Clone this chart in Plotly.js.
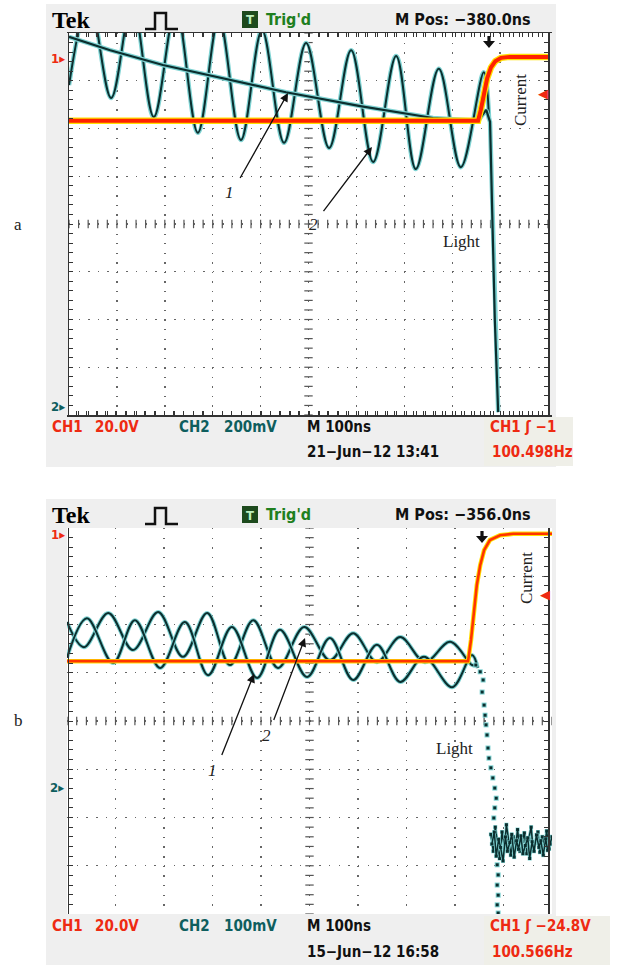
<!DOCTYPE html>
<html><head><meta charset="utf-8">
<script src="https://cdn.plot.ly/plotly-3.0.1.min.js"></script>
<style>html,body{margin:0;padding:0;background:#fff}#chart{width:623px;height:965px}</style>
</head><body><div id="chart"></div>
<script>
// ---------- DATA (in screen divisions: x 0..10, y -4..4) ----------
// Panel a, trace 2 (sinusoid)
const aWaveX = [0.00,0.42,0.88,1.32,1.77,2.23,2.69,3.13,3.59,4.03,4.49,4.95,5.43,5.89,6.35,6.83,7.24,7.72,8.18,8.66,8.77];
const aWaveY = [2.91,4.69,2.64,4.65,2.24,4.52,1.91,4.31,1.76,4.06,1.70,3.79,1.59,3.64,1.30,3.52,1.15,3.25,1.19,3.18,2.18];
// Panel a, trace 1 (falling line) and light drop
const aLineX = [0.00,0.86,1.96,3.15,4.53,6.08,7.60,8.54,8.71,8.79,8.83,8.89,8.96];
const aLineY = [3.92,3.64,3.33,3.06,2.76,2.47,2.22,2.16,2.39,2.14,0.50,-2.01,-3.94];
// Panel a, current (CH1)
const aCurX = [0,8.54,8.60,8.66,8.73,8.81,8.90,9.02,9.20,10];
const aCurY = [2.16,2.16,2.40,2.75,3.05,3.28,3.41,3.48,3.50,3.50];
// Panel b, trace 1
const bWave1X = [0.00,0.35,0.85,1.36,1.88,2.39,2.89,3.36,3.84,4.35,4.89,5.42,5.90,6.39,6.87,7.38,7.90,8.35,8.43];
const bWave1Y = [2.05,1.53,2.24,1.47,2.26,1.33,2.24,1.16,2.09,1.10,1.95,1.26,1.82,1.22,1.74,1.22,1.64,1.16,1.16];
// Panel b, trace 2
const bWave2X = [0.00,0.41,0.95,1.40,1.92,2.43,2.91,3.40,3.92,4.39,4.95,5.42,5.90,6.39,6.87,7.36,7.94,8.35,8.47];
const bWave2Y = [1.31,2.13,1.20,2.09,1.10,2.05,0.95,1.95,0.89,1.89,0.91,1.72,0.85,1.58,0.81,1.33,0.70,1.37,1.10];
// Panel b, light drop (sampled dots)
const bLightX = [8.43,8.52,8.58,8.56,8.60,8.62,8.64,8.66,8.68,8.70,8.74,8.78,8.82,8.85,8.82,8.80,8.87,8.89,8.87,8.89,8.87,8.89];
const bLightY = [1.16,1.02,0.85,0.60,0.33,0.12,-0.08,-0.29,-0.56,-0.77,-0.97,-1.18,-1.39,-1.60,-1.80,-2.01,-2.98,-3.19,-3.40,-3.61,-3.81,-3.98];
// Panel b, noise after the drop
const bNoise1X = [8.74,8.79,8.83,8.88,8.92,8.97,9.02,9.06,9.11,9.15,9.20,9.25,9.29,9.34,9.38,9.43,9.48,9.52,9.57,9.61,9.66,9.71,9.75,9.80,9.85,9.89,9.94,9.99];
const bNoise1Y = [-2.35,-2.70,-2.20,-2.55,-2.85,-2.30,-2.62,-2.15,-2.48,-2.78,-2.40,-2.60,-2.25,-2.70,-2.50,-2.32,-2.75,-2.45,-2.20,-2.66,-2.52,-2.30,-2.72,-2.40,-2.58,-2.28,-2.65,-2.45];
const bNoise2X = [8.76,8.81,8.85,8.90,8.94,8.99,9.04,9.08,9.13,9.17,9.22,9.27,9.31,9.36,9.40,9.45,9.50,9.54,9.59,9.63,9.68,9.73,9.77,9.82,9.87,9.91,9.96,10.0];
const bNoise2Y = [-2.55,-2.30,-2.80,-2.45,-2.62,-2.90,-2.40,-2.70,-2.52,-2.35,-2.82,-2.48,-2.66,-2.38,-2.75,-2.58,-2.42,-2.85,-2.50,-2.70,-2.36,-2.62,-2.48,-2.78,-2.44,-2.68,-2.55,-2.40];
// Panel b, current (CH1)
const bCurX = [0,8.27,8.33,8.39,8.45,8.52,8.60,8.72,8.93,9.20,10];
const bCurY = [1.24,1.24,1.68,2.26,2.82,3.23,3.54,3.75,3.85,3.88,3.88];
// Texts
const headerA = ["Tek","Trig'd","M Pos: \u2212380.0ns"];
const headerB = ["Tek","Trig'd","M Pos: \u2212356.0ns"];
const footA = ["CH1","20.0V","CH2","200mV","M 100ns","CH1 \u0283 \u22121","21\u2212Jun\u221212 13:41","100.498Hz"];
const footB = ["CH1","20.0V","CH2","100mV","M 100ns","CH1 \u0283 \u221224.8V","15\u2212Jun\u221212 16:58","100.566Hz"];

// ---------- LAYOUT ----------
const W=623,H=965;
const fx=x=>x/W, fy=y=>1-y/H;
const SCOPE="'Liberation Sans Narrow','DejaVu Sans Condensed','Arial Narrow',sans-serif";
const SERIF="'Liberation Serif','DejaVu Serif',serif";
const RED='#ee2a12', TEAL='#0e5e5e', GREEN='#1f7f1f';
const TEALCORE='#0b2e2e', TEALHALO='#7fd3d3';

const panels=[
 {xa:'x',ya:'y',L:69,R:548,T:33,B:415,dy:0,hdr:headerA,ft:footA},
 {xa:'x2',ya:'y2',L:67,R:552,T:528,B:914,dy:495,hdr:headerB,ft:footB}
];

function axis(dom,spacing){
  return {domain:dom,range:[0,10],showgrid:true,gridcolor:'#666',gridwidth:1.4,
    griddash:'1.4px,'+(spacing-1.4).toFixed(2)+'px',dtick:1,tick0:0,ticks:'inside',ticklen:4,
    tickcolor:'#333',tickwidth:1,minor:{dtick:0.2,ticklen:4,tickcolor:'#333',tickwidth:1,ticks:'inside',showgrid:false},
    showline:true,linecolor:'#333',linewidth:1.5,mirror:'ticks',showticklabels:false,zeroline:false,fixedrange:true};
}

const layout={width:W,height:H,margin:{l:0,r:0,t:0,b:0},paper_bgcolor:'#fff',plot_bgcolor:'rgba(0,0,0,0)',
  showlegend:false,shapes:[],annotations:[]};

const traces=[];
panels.forEach((p,i)=>{
  const sfx=i===0?'':'2';
  const xax=axis([fx(p.L),fx(p.R)],0.2*(p.B-p.T)/8);
  const yax=axis([fy(p.B),fy(p.T)],0.2*(p.R-p.L)/10);
  yax.range=[-4,4];
  layout['xaxis'+sfx]=xax; layout['yaxis'+sfx]=yax;
  // backgrounds
  layout.shapes.push({type:'rect',xref:'paper',yref:'paper',x0:fx(46),x1:fx(556),y0:fy(p.B+52),y1:fy(p.T-29),fillcolor:'#efefef',line:{width:0},layer:'below'});
  layout.shapes.push({type:'rect',xref:'paper',yref:'paper',x0:fx(484),x1:fx(i===0?573:610),y0:fy(p.B+51),y1:fy(p.B+2),fillcolor:'#efefe8',line:{width:0},layer:'below'});
  layout.shapes.push({type:'rect',xref:'paper',yref:'paper',x0:fx(p.L),x1:fx(p.R),y0:fy(p.B),y1:fy(p.T),fillcolor:'#ffffff',line:{width:0},layer:'below'});
  // graticule center ticks
  const cx=[],cy=[];for(let k=0;k<=50;k++){cx.push(k*0.2);cy.push(0);}
  const vx=[],vy=[];for(let k=0;k<=40;k++){vx.push(5);vy.push(-4+k*0.2);}
  traces.push({x:cx,y:cy,xaxis:p.xa,yaxis:p.ya,mode:'markers',hoverinfo:'skip',marker:{symbol:'line-ns',size:6,line:{width:1.2,color:'#555'}}});
  traces.push({x:vx,y:vy,xaxis:p.xa,yaxis:p.ya,mode:'markers',hoverinfo:'skip',marker:{symbol:'line-ew',size:6,line:{width:1.2,color:'#555'}}});
  // pulse symbol
  const d=p.dy;
  layout.shapes.push({type:'path',xref:'paper',yref:'paper',
    path:`M${fx(145)},${fy(29+d)} L${fx(155)},${fy(29+d)} L${fx(155)},${fy(13+d)} L${fx(166)},${fy(13+d)} L${fx(166)},${fy(29+d)} L${fx(178)},${fy(29+d)}`,
    line:{color:'#111',width:2.5}});
  // T box
  layout.shapes.push({type:'rect',xref:'paper',yref:'paper',x0:fx(242),x1:fx(258),y0:fy(28+d),y1:fy(11+d),fillcolor:'#1d4a1d',line:{width:0}});
  // trigger arrow
  const tx=i===0?489:482, ty=i===0?36:531;
  layout.shapes.push({type:'path',xref:'paper',yref:'paper',
    path:`M${fx(tx-1.6)},${fy(ty)} L${fx(tx+1.6)},${fy(ty)} L${fx(tx+1.6)},${fy(ty+5)} L${fx(tx+6)},${fy(ty+5)} L${fx(tx)},${fy(ty+12)} L${fx(tx-6)},${fy(ty+5)} L${fx(tx-1.6)},${fy(ty+5)} Z`,
    fillcolor:'#111',line:{width:0}});
  const A=(text,x,y,font,extra)=>Object.assign({xref:'paper',yref:'paper',x:fx(x),y:fy(y),text:text,showarrow:false,xanchor:'left',yanchor:'middle',font:font},extra||{});
  const sf=(c,s)=>({family:SCOPE,size:s||15,color:c,weight:'bold'});
  const an=layout.annotations;
  an.push(A(p.hdr[0],50,20+d,{family:SERIF,size:24,color:'#000',weight:'bold'}));
  an.push(A('T',250,20+d,{family:SCOPE,size:13,color:'#bff0bf',weight:'bold'},{xanchor:'center'}));
  an.push(A(p.hdr[1],264,19+d,sf(GREEN,16)));
  an.push(A(p.hdr[2],393,19+d,sf('#111',16)));
  // footer
  const r1=p.B+12, r2=p.B+37+(i===0?0:1);
  an.push(A(p.ft[0],50,r1,sf(RED)));
  an.push(A(p.ft[1],93,r1,sf(RED)));
  an.push(A(p.ft[2],177,r1,sf(TEAL)));
  an.push(A(p.ft[3],222,r1,sf(TEAL)));
  an.push(A(p.ft[4],305,r1,sf('#111')));
  an.push(A(p.ft[5],488,r1,sf(RED)));
  an.push(A(p.ft[6],305,r2,sf('#111')));
  an.push(A(p.ft[7],490,r2,sf(RED)));
});

// channel markers and labels
const A=(text,x,y,font,extra)=>Object.assign({xref:'paper',yref:'paper',x:fx(x),y:fy(y),text:text,showarrow:false,xanchor:'center',yanchor:'middle',font:font},extra||{});
const an=layout.annotations;
const mk=(c)=>({family:SCOPE,size:13,color:c,weight:'bold'});
an.push(A('1\u25B8',58,59,mk(RED)));
an.push(A('2\u25B8',58,406,mk(TEAL)));
an.push(A('1\u25B8',58,534,mk(RED)));
an.push(A('2\u25B8',57,787,mk(TEAL)));
an.push(A('\u25C0',543,94,{family:'DejaVu Sans',size:13,color:RED}));
an.push(A('\u25C0',545,594,{family:'DejaVu Sans',size:13,color:RED}));
const lab={family:SERIF,size:17,color:'#222'};
an.push(A('Current',520,100,lab,{textangle:-90}));
an.push(A('Current',526,578,lab,{textangle:-90}));
an.push(A('Light',461,241,lab));
an.push(A('Light',454,748,lab));
an.push(A('a',18,225,lab));
an.push(A('b',18,720,lab));
const it={family:SERIF,size:17,color:'#222',style:'italic'};
an.push(A('1',230,192,it));
an.push(A('2',313,225,it));
an.push(A('1',212,770,it));
an.push(A('2',266,735,it));
const arrow=(hx,hy,tx,ty)=>({xref:'paper',yref:'paper',x:fx(hx),y:fy(hy),ax:tx-hx,ay:ty-hy,text:' ',font:{size:1},showarrow:true,arrowhead:2,arrowsize:1.3,arrowwidth:1.3,arrowcolor:'#111',standoff:0,startstandoff:0});
an.push(arrow(288,93,239,180));
an.push(arrow(372,147,322,213));
an.push(arrow(254,674,221,757));
an.push(arrow(305,638,273,722));

// ---------- TRACES ----------
function teal(x,y,xa,ya,shape,wc,wh){
  traces.push({x,y,xaxis:xa,yaxis:ya,mode:'lines',hoverinfo:'skip',line:{color:TEALHALO,width:wh,shape:shape,smoothing:1}});
  traces.push({x,y,xaxis:xa,yaxis:ya,mode:'lines',hoverinfo:'skip',line:{color:TEALCORE,width:wc,shape:shape,smoothing:1}});
}
teal(aWaveX,aWaveY,'x','y','spline',2,4.5);
teal(aLineX,aLineY,'x','y','linear',2.2,4.5);
traces.push({x:aCurX,y:aCurY,xaxis:'x',yaxis:'y',mode:'lines',hoverinfo:'skip',line:{color:'#ffe000',width:6.5}});
traces.push({x:aCurX,y:aCurY,xaxis:'x',yaxis:'y',mode:'lines',hoverinfo:'skip',line:{color:'#ff2200',width:4}});

teal(bWave1X,bWave1Y,'x2','y2','spline',2,4);
teal(bWave2X,bWave2Y,'x2','y2','spline',2,4);
traces.push({x:bLightX,y:bLightY,xaxis:'x2',yaxis:'y2',mode:'markers',hoverinfo:'skip',marker:{symbol:'square',size:5,color:TEALHALO}});
traces.push({x:bLightX,y:bLightY,xaxis:'x2',yaxis:'y2',mode:'markers',hoverinfo:'skip',marker:{symbol:'square',size:3,color:TEALCORE}});
[[bNoise1X,bNoise1Y],[bNoise2X,bNoise2Y]].forEach(([x,y])=>{
  traces.push({x,y,xaxis:'x2',yaxis:'y2',mode:'lines+markers',hoverinfo:'skip',line:{color:TEALHALO,width:3},marker:{size:4,color:TEALHALO,symbol:'square'}});
  traces.push({x,y,xaxis:'x2',yaxis:'y2',mode:'lines+markers',hoverinfo:'skip',line:{color:TEALCORE,width:1.5},marker:{size:3,color:TEALCORE,symbol:'square'}});
});
traces.push({x:bCurX,y:bCurY,xaxis:'x2',yaxis:'y2',mode:'lines',hoverinfo:'skip',line:{color:'#ffe000',width:4.5}});
traces.push({x:bCurX,y:bCurY,xaxis:'x2',yaxis:'y2',mode:'lines',hoverinfo:'skip',line:{color:'#ff3300',width:2.6}});

Plotly.newPlot('chart',traces,layout,{staticPlot:true,displayModeBar:false});
</script></body></html>
